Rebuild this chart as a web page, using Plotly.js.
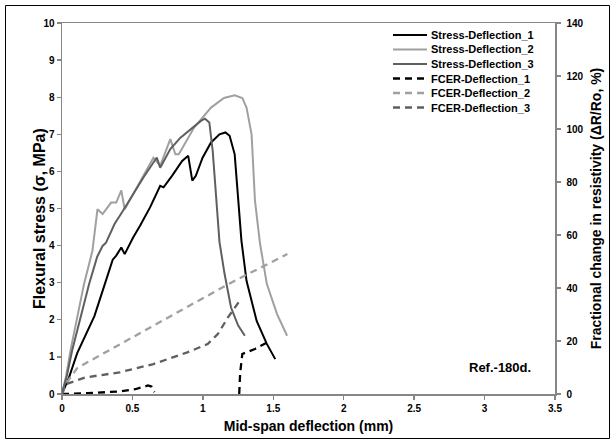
<!DOCTYPE html>
<html>
<head>
<meta charset="utf-8">
<script src="https://cdn.plot.ly/plotly-3.0.1.min.js"></script>
<style>html,body{margin:0;padding:0;background:#fff;}#chart{width:613px;height:439px;}</style>
</head>
<body>
<div id="chart"></div>
<script>
// ---- data ----
const s1x = [0, 0.05, 0.108, 0.17, 0.23, 0.29, 0.33, 0.36, 0.385, 0.421, 0.445, 0.505, 0.553, 0.625, 0.697, 0.721, 0.781, 0.853, 0.896, 0.91, 0.925, 0.95, 0.998, 1.058, 1.118, 1.16, 1.19, 1.226, 1.245, 1.26, 1.274, 1.31, 1.382, 1.454, 1.514];
const s1y = [0, 0.45, 1.1, 1.6, 2.1, 2.8, 3.3, 3.62, 3.73, 3.95, 3.77, 4.22, 4.53, 5.03, 5.61, 5.57, 5.88, 6.28, 6.42, 6.1, 5.75, 5.88, 6.37, 6.78, 7.0, 7.05, 6.96, 6.46, 5.6, 4.8, 4.13, 3.05, 1.97, 1.35, 0.94];

const s2x = [0, 0.03, 0.06, 0.108, 0.156, 0.216, 0.252, 0.288, 0.349, 0.385, 0.421, 0.445, 0.505, 0.577, 0.649, 0.697, 0.769, 0.805, 0.829, 0.938, 1.058, 1.15, 1.226, 1.28, 1.31, 1.346, 1.37, 1.406, 1.454, 1.526, 1.598];
const s2y = [0, 0.5, 1.17, 2.06, 2.96, 3.86, 4.98, 4.85, 5.16, 5.16, 5.49, 4.98, 5.4, 5.88, 6.37, 6.15, 6.87, 6.46, 6.46, 7.18, 7.72, 7.98, 8.05, 7.98, 7.72, 7.0, 5.21, 4.05, 2.97, 2.16, 1.57];

const s3x = [0, 0.035, 0.072, 0.132, 0.192, 0.25, 0.288, 0.3125, 0.373, 0.433, 0.505, 0.577, 0.649, 0.673, 0.697, 0.769, 0.841, 0.913, 0.986, 1.015, 1.046, 1.07, 1.094, 1.118, 1.154, 1.2, 1.25, 1.298];
const s3y = [0, 0.5, 1.17, 2.06, 2.96, 3.7, 3.99, 4.08, 4.58, 4.94, 5.39, 5.83, 6.24, 6.37, 6.10, 6.6, 6.91, 7.14, 7.36, 7.42, 7.32, 6.55, 5.21, 4.1, 3.24, 2.33, 1.85, 1.57];

const f1x = [0, 0.18, 0.42, 0.52, 0.61, 0.635, 0.655, null, 1.258, 1.265, 1.28, 1.37, 1.478];
const f1y = [0, 0.3, 1.0, 1.8, 3.2, 2.8, 0.7, null, 0, 8, 15.1, 17, 20.1];

const f2x = [0, 0.03, 0.108, 0.4, 0.86, 1.2, 1.6];
const f2y = [0, 4, 9.8, 18.5, 32, 42, 52.8];

const f3x = [0, 0.02, 0.168, 0.409, 0.649, 0.889, 1.034, 1.106, 1.178, 1.262];
const f3y = [0, 3.6, 6.28, 8.17, 11.3, 15.7, 18.85, 22.6, 28.9, 35.2];

const names = ['Stress-Deflection_1', 'Stress-Deflection_2', 'Stress-Deflection_3',
               'FCER-Deflection_1', 'FCER-Deflection_2', 'FCER-Deflection_3'];
const xTitle = 'Mid-span deflection (mm)';
const yTitle = 'Flexural stress (σ, MPa)';
const y2Title = 'Fractional change in resistivity (ΔR/Ro, %)';
const note = 'Ref.-180d.';

// ---- styles ----
const colors = ['#000000', '#a0a0a0', '#5f5f5f', '#000000', '#a0a0a0', '#5f5f5f'];
const FONT = 'Liberation Sans, Arial, sans-serif';
const AX = '#868686';
const DASH = '7px,5px';

const traces = [
  {x: s1x, y: s1y, yaxis: 'y', line: {color: colors[0], width: 2}},
  {x: s2x, y: s2y, yaxis: 'y', line: {color: colors[1], width: 2}},
  {x: s3x, y: s3y, yaxis: 'y', line: {color: colors[2], width: 2}},
  {x: f1x, y: f1y, yaxis: 'y2', line: {color: colors[3], width: 2.3, dash: DASH}},
  {x: f2x, y: f2y, yaxis: 'y2', line: {color: colors[4], width: 2.3, dash: DASH}},
  {x: f3x, y: f3y, yaxis: 'y2', line: {color: colors[5], width: 2.3, dash: DASH}}
].map((t, i) => Object.assign(t, {type: 'scatter', mode: 'lines', name: names[i], showlegend: false, hoverinfo: 'skip'}));

// plot area in pixels: x 62..555, y 23..394
const L = 62, R = 555, T = 23, B = 394, W = R - L, H = B - T;
const px = v => (v - L) / W;
const py = v => (B - v) / H;

const shapes = [
  {type: 'rect', xref: 'paper', yref: 'paper', x0: px(5.5), x1: px(609.5), y0: py(438.5), y1: py(5.5),
   line: {color: '#000', width: 1}, fillcolor: 'rgba(0,0,0,0)', layer: 'below'}
];
const tf = s => ({family: FONT, size: s, weight: 'bold', color: '#000'});
const annotations = [];
const legY = [35, 49.5, 64, 78.5, 93, 107.5];
names.forEach((n, i) => {
  shapes.push({type: 'line', xref: 'paper', yref: 'paper', x0: px(393), x1: px(427), y0: py(legY[i]), y1: py(legY[i]),
    line: {color: colors[i], width: i < 3 ? 2 : 2.3, dash: i < 3 ? 'solid' : DASH}});
  annotations.push({xref: 'paper', yref: 'paper', x: px(429), y: py(legY[i]), xanchor: 'left', yanchor: 'middle',
    text: n, showarrow: false, font: tf(11)});
});
annotations.push({xref: 'paper', yref: 'paper', x: px(533), y: py(367), xanchor: 'right', yanchor: 'middle',
  text: note, showarrow: false, font: tf(13)});
// left axis title (placed as in the reference)
annotations.push({xref: 'paper', yref: 'paper', x: px(39), y: py(219), xanchor: 'center', yanchor: 'middle',
  textangle: -90, text: yTitle, showarrow: false, font: tf(16)});

const tickFont = {family: FONT, size: 10, weight: 'bold', color: '#000'};

const layout = {
  width: 613, height: 439,
  margin: {l: L, r: 613 - R, t: T, b: 439 - B, pad: 0},
  paper_bgcolor: '#fff', plot_bgcolor: '#fff',
  showlegend: false,
  xaxis: {range: [0, 3.5], dtick: 0.5, tick0: 0, ticks: 'outside', ticklen: 4, tickwidth: 1.3, tickcolor: AX,
    showline: true, linecolor: AX, linewidth: 1.5, mirror: true, showgrid: false, zeroline: false,
    tickfont: tickFont, title: {text: xTitle, font: tf(14), standoff: 8}},
  yaxis: {range: [0, 10], dtick: 1, ticks: 'outside', ticklen: 4, tickwidth: 1.3, tickcolor: AX,
    showline: true, linecolor: AX, linewidth: 1.5, mirror: true, showgrid: false, zeroline: false,
    tickfont: tickFont},
  yaxis2: {range: [0, 140], dtick: 20, overlaying: 'y', side: 'right', ticks: 'outside', ticklen: 4, tickwidth: 1.3, tickcolor: AX,
    showline: true, linecolor: AX, linewidth: 1.5, showgrid: false, zeroline: false, ticklabelstandoff: 4,
    tickfont: tickFont, title: {text: y2Title, font: tf(14), standoff: 8}},
  shapes: shapes,
  annotations: annotations
};

Plotly.newPlot('chart', traces, layout, {displayModeBar: false, staticPlot: true});
</script>
</body>
</html>
